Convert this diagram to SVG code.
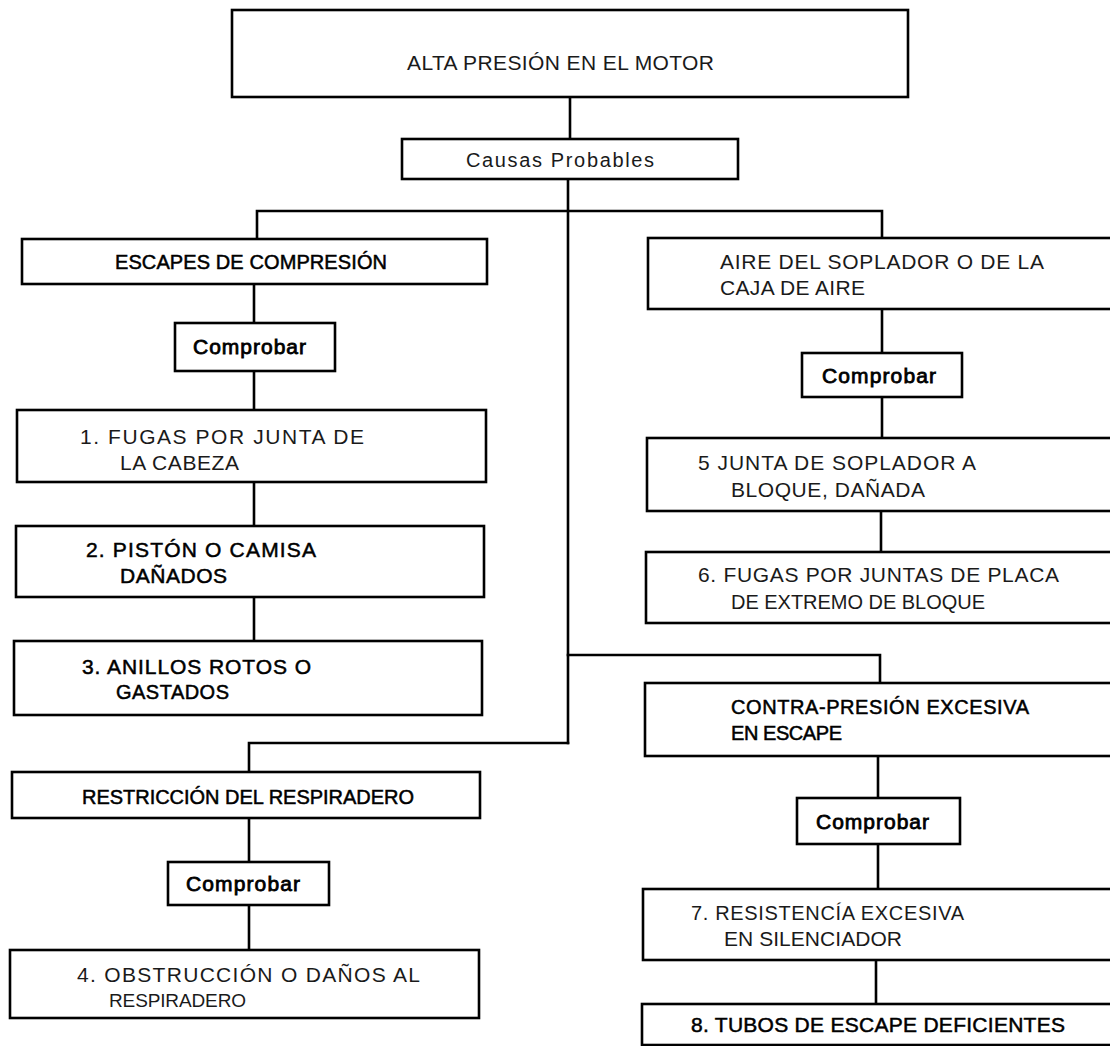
<svg xmlns="http://www.w3.org/2000/svg" width="1110" height="1046" viewBox="0 0 1110 1046">
  <style>
    .box { fill: #fff; stroke: #000; stroke-width: 2.6; }
    .wire { fill: none; stroke: #000; stroke-width: 2.6; stroke-linecap: square; }
    text { font-family: "Liberation Sans", "DejaVu Sans", sans-serif; font-size: 21px; }
    .lt { fill: #1a1a1a; }
    .dk { fill: #000; stroke: #000; stroke-width: 0.5; }
    .chk { font-size: 21px; fill: #000; stroke: #000; stroke-width: 0.8; }
    .s20 { font-size: 20px; }
    .s19 { font-size: 19px; }
  </style>
  <rect width="1110" height="1046" fill="#fff"/>

  <!-- connectors -->
  <g id="connectors" class="wire">
    <path d="M570 97 V139"/>
    <path d="M568 179 V743"/>
    <path d="M257 239 V211 H882 V238"/>
    <path d="M254 284 V323 M254 371 V410 M254 482 V526 M254 597 V641"/>
    <path d="M882 309 V353 M882 397 V438 M881 511 V552"/>
    <path d="M568 655 H880 V683"/>
    <path d="M568 743 H249 V772"/>
    <path d="M249 818 V862 M249 905 V950"/>
    <path d="M878 756 V798 M878 844 V889 M876 960 V1004"/>
  </g>

  <!-- top problem -->
  <g id="n-alta">
    <rect class="box" x="232" y="10" width="676" height="87"/>
    <text class="lt" x="407" y="70" textLength="307" lengthAdjust="spacing">ALTA PRESIÓN EN EL MOTOR</text>
  </g>
  <g id="n-causas">
    <rect class="box" x="402" y="139" width="336" height="40"/>
    <text class="lt s20" x="466" y="167" textLength="188" lengthAdjust="spacing">Causas Probables</text>
  </g>

  <!-- left column: compression leaks -->
  <g id="n-escapes">
    <rect class="box" x="22" y="239" width="465" height="45"/>
    <text class="dk s20" x="115" y="269" textLength="272" lengthAdjust="spacing">ESCAPES DE COMPRESIÓN</text>
  </g>
  <g id="n-comprobar-1">
    <rect class="box" x="175" y="323" width="160" height="48"/>
    <text class="chk" x="193" y="354" textLength="113" lengthAdjust="spacing">Comprobar</text>
  </g>
  <g id="n-1">
    <rect class="box" x="17" y="410" width="469" height="72"/>
    <text class="lt" x="80" y="444" textLength="284" lengthAdjust="spacing">1.  FUGAS POR JUNTA DE</text>
    <text class="lt" x="120" y="470" textLength="119" lengthAdjust="spacing">LA CABEZA</text>
  </g>
  <g id="n-2">
    <rect class="box" x="16" y="526" width="468" height="71"/>
    <text class="dk" x="86" y="557" textLength="230" lengthAdjust="spacing">2.  PISTÓN O CAMISA</text>
    <text class="dk" x="120" y="583" textLength="107" lengthAdjust="spacing">DAÑADOS</text>
  </g>
  <g id="n-3">
    <rect class="box" x="14" y="641" width="468" height="74"/>
    <text class="dk" x="82" y="674" textLength="229" lengthAdjust="spacing">3.  ANILLOS ROTOS O</text>
    <text class="dk s20" x="116" y="699" textLength="113" lengthAdjust="spacing">GASTADOS</text>
  </g>

  <!-- left column: breather -->
  <g id="n-restriccion">
    <rect class="box" x="12" y="772" width="468" height="46"/>
    <text class="dk s20" x="82" y="804" textLength="332" lengthAdjust="spacing">RESTRICCIÓN DEL RESPIRADERO</text>
  </g>
  <g id="n-comprobar-2">
    <rect class="box" x="168" y="862" width="161" height="43"/>
    <text class="chk" x="186" y="891" textLength="114" lengthAdjust="spacing">Comprobar</text>
  </g>
  <g id="n-4">
    <rect class="box" x="10" y="950" width="469" height="68"/>
    <text class="lt" x="77" y="982" textLength="343" lengthAdjust="spacing">4.  OBSTRUCCIÓN O DAÑOS AL</text>
    <text class="lt s19" x="109" y="1007" textLength="137" lengthAdjust="spacing">RESPIRADERO</text>
  </g>

  <!-- right column: blower / air box -->
  <g id="n-aire">
    <rect class="box" x="648" y="238" width="470" height="71"/>
    <text class="lt" x="720" y="269" textLength="324" lengthAdjust="spacing">AIRE DEL SOPLADOR O DE LA</text>
    <text class="lt" x="720" y="295" textLength="145" lengthAdjust="spacing">CAJA DE AIRE</text>
  </g>
  <g id="n-comprobar-3">
    <rect class="box" x="802" y="353" width="160" height="44"/>
    <text class="chk" x="822" y="383" textLength="114" lengthAdjust="spacing">Comprobar</text>
  </g>
  <g id="n-5">
    <rect class="box" x="647" y="438" width="470" height="73"/>
    <text class="lt" x="698" y="470" textLength="278" lengthAdjust="spacing">5   JUNTA DE SOPLADOR A</text>
    <text class="lt" x="731" y="497" textLength="194" lengthAdjust="spacing">BLOQUE, DAÑADA</text>
  </g>
  <g id="n-6">
    <rect class="box" x="646" y="552" width="470" height="71"/>
    <text class="lt" x="698" y="582" textLength="361" lengthAdjust="spacing">6.  FUGAS POR JUNTAS DE PLACA</text>
    <text class="lt s20" x="731" y="609" textLength="254" lengthAdjust="spacing">DE EXTREMO DE BLOQUE</text>
  </g>

  <!-- right column: exhaust back-pressure -->
  <g id="n-contra">
    <rect class="box" x="645" y="683" width="472" height="73"/>
    <text class="dk s20" x="731" y="714" textLength="298" lengthAdjust="spacing">CONTRA-PRESIÓN EXCESIVA</text>
    <text class="dk s20" x="731" y="740" textLength="111" lengthAdjust="spacing">EN ESCAPE</text>
  </g>
  <g id="n-comprobar-4">
    <rect class="box" x="797" y="798" width="163" height="46"/>
    <text class="chk" x="816" y="829" textLength="113" lengthAdjust="spacing">Comprobar</text>
  </g>
  <g id="n-7">
    <rect class="box" x="643" y="889" width="474" height="71"/>
    <text class="lt s20" x="691" y="920" textLength="273" lengthAdjust="spacing">7.  RESISTENCÍA EXCESIVA</text>
    <text class="lt" x="724" y="946" textLength="178" lengthAdjust="spacing">EN SILENCIADOR</text>
  </g>
  <g id="n-8">
    <rect class="box" x="642" y="1004" width="476" height="41"/>
    <text class="dk" x="691" y="1032" textLength="374" lengthAdjust="spacing">8.  TUBOS DE ESCAPE DEFICIENTES</text>
  </g>
</svg>
